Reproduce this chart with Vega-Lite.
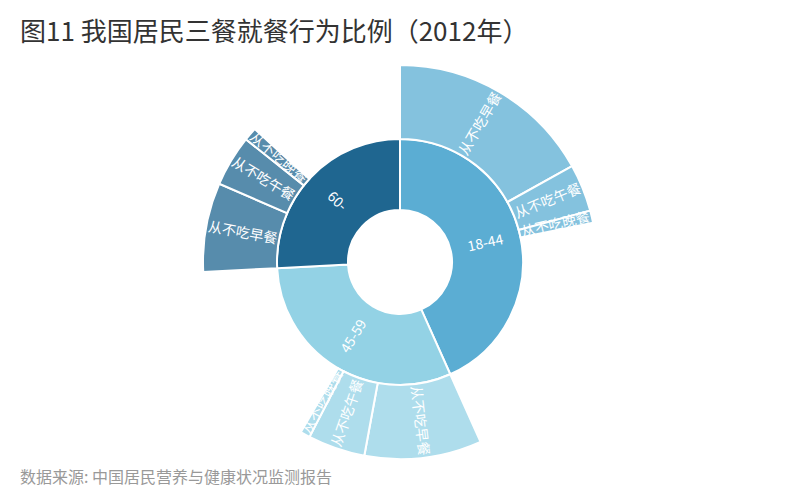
{
  "$schema": "https://vega.github.io/schema/vega-lite/v6.json",
  "padding": {"left": 20, "top": 20, "right": 20, "bottom": 4},
  "background": "white",
  "config": {"view": {"stroke": null}, "font": "Noto Sans CJK SC"},
  "title": {"text": "数据来源: 中国居民营养与健康状况监测报告", "orient": "bottom", "anchor": "start", "fontSize": 16, "fontWeight": "normal", "color": "#999999", "offset": 6, "font": "Noto Sans CJK SC"},
  "datasets": {
    "ages": [
      {"age": "18-44", "value": 43.3},
      {"age": "45-59", "value": 30.9},
      {"age": "60-", "value": 25.8}
    ],
    "meals": [
      {"age": "18-44", "meal": "从不吃早餐", "k": 1, "value": 16.9},
      {"age": "18-44", "meal": "从不吃午餐", "k": 2, "value": 3.9},
      {"age": "18-44", "meal": "从不吃晚餐", "k": 3, "value": 1.0},
      {"age": "18-44", "meal": "其他", "k": 4, "value": 21.5},
      {"age": "45-59", "meal": "从不吃早餐", "k": 5, "value": 9.6},
      {"age": "45-59", "meal": "从不吃午餐", "k": 6, "value": 4.7},
      {"age": "45-59", "meal": "从不吃晚餐", "k": 7, "value": 0.8},
      {"age": "45-59", "meal": "其他", "k": 8, "value": 15.8},
      {"age": "60-", "meal": "从不吃早餐", "k": 9, "value": 7.3},
      {"age": "60-", "meal": "从不吃午餐", "k": 10, "value": 4.2},
      {"age": "60-", "meal": "从不吃晚餐", "k": 11, "value": 1.1},
      {"age": "60-", "meal": "其他", "k": 12, "value": 13.2}
    ]
  },
  "vconcat": [
    {
      "width": 760,
      "height": 404,
      "title": {"text": "图11 我国居民三餐就餐行为比例（2012年）", "anchor": "start", "fontSize": 26, "fontWeight": "normal", "color": "#333333", "offset": 14, "font": "Noto Sans CJK SC"},
      "layer": [
        {
          "data": {"name": "ages"},
          "transform": [
            {"stack": "value", "groupby": [], "sort": [{"field": "age", "order": "ascending"}], "as": ["s0", "s1"]}
          ],
          "mark": {"type": "arc", "radius": 123, "radius2": 52, "stroke": "white", "strokeWidth": 2},
          "encoding": {
            "theta": {"field": "s0", "type": "quantitative", "scale": {"domain": [0, 100]}},
            "theta2": {"field": "s1"},
            "color": {"field": "age", "type": "nominal", "scale": {"domain": ["18-44", "45-59", "60-"], "range": ["#5BADD3", "#93D2E5", "#1F6690"]}, "legend": null}
          }
        },
        {
          "data": {"name": "meals"},
          "transform": [
            {"stack": "value", "groupby": [], "sort": [{"field": "k", "order": "ascending"}], "as": ["s0", "s1"]},
            {"filter": "datum.meal !== '其他'"}
          ],
          "mark": {"type": "arc", "radius": 197, "radius2": 123, "stroke": "white", "strokeWidth": 2, "fillOpacity": 0.75},
          "encoding": {
            "theta": {"field": "s0", "type": "quantitative"},
            "theta2": {"field": "s1"},
            "color": {"field": "age", "type": "nominal", "legend": null}
          }
        },
        {
          "data": {"name": "ages"},
          "transform": [
            {"stack": "value", "groupby": [], "sort": [{"field": "age", "order": "ascending"}], "as": ["s0", "s1"]},
            {"calculate": "(datum.s0 + datum.s1) / 2", "as": "mid"},
            {"calculate": "datum.mid * 3.6 < 180 ? datum.mid * 3.6 - 90 : datum.mid * 3.6 + 90", "as": "ang"}
          ],
          "mark": {"type": "text", "radius": 87.5, "fontSize": 14, "color": "white", "align": "center", "baseline": "middle", "font": "Noto Sans CJK SC"},
          "encoding": {
            "theta": {"field": "mid", "type": "quantitative"},
            "text": {"field": "age"},
            "angle": {"field": "ang", "type": "quantitative", "scale": null}
          }
        },
        {
          "data": {"name": "meals"},
          "transform": [
            {"stack": "value", "groupby": [], "sort": [{"field": "k", "order": "ascending"}], "as": ["s0", "s1"]},
            {"filter": "datum.meal !== '其他'"},
            {"calculate": "(datum.s0 + datum.s1) / 2", "as": "mid"},
            {"calculate": "datum.mid * 3.6 < 180 ? datum.mid * 3.6 - 90 : datum.mid * 3.6 + 90", "as": "ang"}
          ],
          "mark": {"type": "text", "radius": 160, "fontSize": 14, "color": "white", "align": "center", "baseline": "middle", "font": "Noto Sans CJK SC"},
          "encoding": {
            "theta": {"field": "mid", "type": "quantitative"},
            "text": {"field": "meal"},
            "angle": {"field": "ang", "type": "quantitative", "scale": null}
          }
        }
      ]
    }
  ]
}
